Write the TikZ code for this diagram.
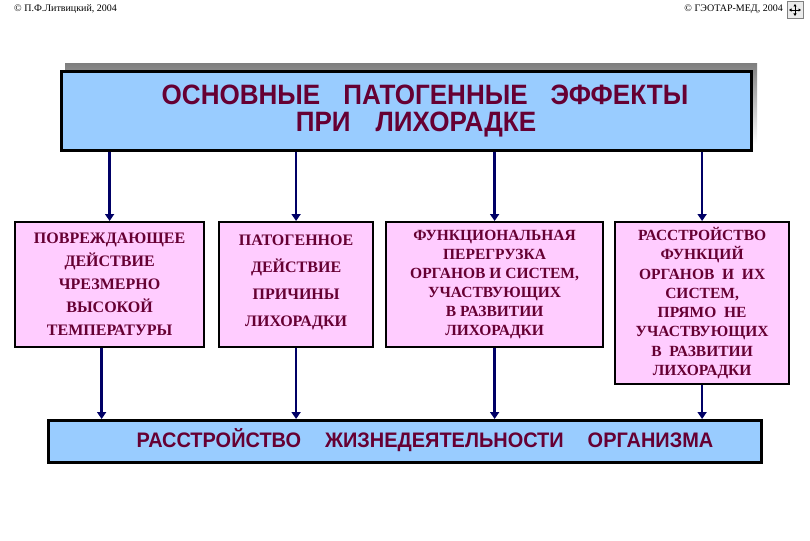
\documentclass[tikz,border=0pt]{standalone}
\usepackage{fontspec}
\usepackage{graphicx}
\setmainfont{Liberation Serif}
\newfontfamily\arialf{Liberation Sans}
\usetikzlibrary{arrows.meta}
\definecolor{bluef}{RGB}{153,204,255}
\definecolor{pinkf}{RGB}{255,204,255}
\definecolor{maroon}{RGB}{102,0,51}
\definecolor{navy}{RGB}{0,0,102}
\definecolor{shade}{RGB}{128,128,128}
\tikzset{
  pbox/.style={draw=black, line width=2.2pt, fill=pinkf, inner sep=0pt, anchor=north west},
  bbox/.style={draw=black, line width=2.6pt, fill=bluef, inner sep=0pt, anchor=north west},
  ptext/.style={text=maroon, align=center, inner sep=0pt},
  stext/.style={text=maroon, inner sep=0pt, font=\arialf\bfseries},
  arr/.style={draw=navy, line width=2.6pt, -{Triangle[length=7pt,width=9pt]}},
  hdr/.style={inner sep=0pt, font=\fontsize{10}{11}\selectfont},
}
\begin{document}
\begin{tikzpicture}[x=1pt,y=-1pt]
\useasboundingbox[fill=white] (0,0) rectangle (810,540);
% header
\node[hdr, anchor=west] (hl) at (14,9) {© П.Ф.Литвицкий, 2004};
\node[hdr, anchor=east] (hr) at (783,9) {© ГЭОТАР-МЕД, 2004};
\node[draw=shade, fill=black!8, line width=0.6pt, minimum width=16pt, minimum height=17pt, inner sep=0pt] (icon) at (795,10) {};
\draw[line width=0.7pt, -{Triangle[length=2.5pt,width=3pt]}] (icon.center) -- ++(0,-6);
\draw[line width=0.7pt, -{Triangle[length=2.5pt,width=3pt]}] (icon.center) -- ++(0,6);
\draw[line width=0.7pt, -{Triangle[length=2.5pt,width=3pt]}] (icon.center) -- ++(-6,0);
\draw[line width=0.7pt, -{Triangle[length=2.5pt,width=3pt]}] (icon.center) -- ++(6,0);
% title
\fill[shade] (65,64) rectangle (757,144);
\node[bbox, minimum width=690pt, minimum height=79pt] (title) at (60,70) {};
\node[stext, font=\arialf\bfseries\fontsize{28}{30}\selectfont] (t1) at (425,95) {\scalebox{0.93}[1]{ОСНОВНЫЕ}\hspace{23pt}\scalebox{0.93}[1]{ПАТОГЕННЫЕ}\hspace{23pt}\scalebox{0.93}[1]{ЭФФЕКТЫ}};
\node[stext, font=\arialf\bfseries\fontsize{28}{30}\selectfont] (t2) at (416,125) {\scalebox{0.93}[1]{ПРИ}\hspace{25pt}\scalebox{0.93}[1]{ЛИХОРАДКЕ}};
% boxes
\node[pbox, minimum width=189pt, minimum height=125pt] (b1) at (14,221) {};
\node[pbox, minimum width=154pt, minimum height=125pt] (b2) at (218,221) {};
\node[pbox, minimum width=217pt, minimum height=125pt] (b3) at (385,221) {};
\node[pbox, minimum width=174pt, minimum height=162pt] (b4) at (614,221) {};
\node[ptext, font=\bfseries\fontsize{16}{23}\selectfont] (x1) at (b1.center) {ПОВРЕЖДАЮЩЕЕ\\ДЕЙСТВИЕ\\ЧРЕЗМЕРНО\\ВЫСОКОЙ\\ТЕМПЕРАТУРЫ};
\node[ptext, font=\bfseries\fontsize{16}{27}\selectfont] (x2) at ([yshift=2]b2.center) {ПАТОГЕННОЕ\\ДЕЙСТВИЕ\\ПРИЧИНЫ\\ЛИХОРАДКИ};
\node[ptext, font=\bfseries\fontsize{15.5}{19}\selectfont] (x3) at (b3.center) {ФУНКЦИОНАЛЬНАЯ\\ПЕРЕГРУЗКА\\ОРГАНОВ И СИСТЕМ,\\УЧАСТВУЮЩИХ\\В РАЗВИТИИ\\ЛИХОРАДКИ};
\node[ptext, font=\bfseries\fontsize{15.5}{19.3}\selectfont] (x4) at (b4.center) {РАССТРОЙСТВО\\ФУНКЦИЙ\\ОРГАНОВ~~И~~ИХ\\СИСТЕМ,\\ПРЯМО~~НЕ\\УЧАСТВУЮЩИХ\\В~~РАЗВИТИИ\\ЛИХОРАДКИ};
% bottom box
\node[bbox, minimum width=713pt, minimum height=42pt] (bot) at (47,419) {};
\node[stext, font=\arialf\bfseries\fontsize{21}{24}\selectfont] (bt) at (425,440) {\scalebox{0.95}[1]{РАССТРОЙСТВО}\hspace{24pt}\scalebox{0.95}[1]{ЖИЗНЕДЕЯТЕЛЬНОСТИ}\hspace{24pt}\scalebox{0.95}[1]{ОРГАНИЗМА}};
% arrows
\coordinate (b1out) at ([xshift=-8pt]b1.south);
\draw[arr] (title.south -| b1.north) -- (b1.north);
\draw[arr] (title.south -| b2.north) -- (b2.north);
\draw[arr] (title.south -| b3.north) -- (b3.north);
\draw[arr] (title.south -| b4.north) -- (b4.north);
\draw[arr] (b1out) -- (bot.north -| b1out);
\draw[arr] (b2.south) -- (bot.north -| b2.south);
\draw[arr] (b3.south) -- (bot.north -| b3.south);
\draw[arr] (b4.south) -- (bot.north -| b4.south);
\end{tikzpicture}
\end{document}
